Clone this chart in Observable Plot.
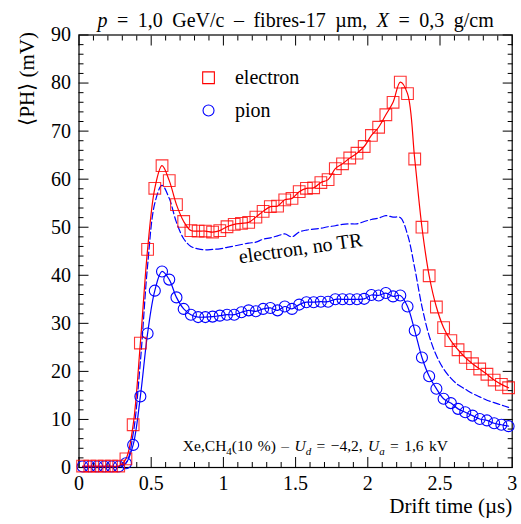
<!DOCTYPE html>
<html>
<head>
<meta charset="utf-8">
<script src="https://cdn.jsdelivr.net/npm/d3@7"></script>
<script src="https://cdn.jsdelivr.net/npm/@observablehq/plot@0.6"></script>
<style>
  html, body { margin: 0; padding: 0; background: #fff; }
  svg text, svg tspan { font-family: "Liberation Serif", serif !important; }
</style>
</head>
<body>
<div id="chart"></div>
<script>
// Drift time (µs)
const time = [0.025,0.075,0.125,0.175,0.225,0.275,0.325,0.375,0.425,0.475,
  0.525,0.575,0.625,0.675,0.725,0.775,0.825,0.875,0.925,0.975,
  1.025,1.075,1.125,1.175,1.225,1.275,1.325,1.375,1.425,1.475,
  1.525,1.575,1.625,1.675,1.725,1.775,1.825,1.875,1.925,1.975,
  2.025,2.075,2.125,2.175,2.225,2.275,2.325,2.375,2.425,2.475,
  2.525,2.575,2.625,2.675,2.725,2.775,2.825,2.875,2.925,2.975];
// <PH> (mV)
const electron = [0.3,0.3,0.3,0.3,0.3,0.3,1.8,8.9,25.9,45.4,
  58.1,62.8,59.7,54.7,51.2,49.3,49.2,49.2,49.0,49.3,
  50.1,50.6,50.8,51.0,52.1,53.3,54.3,54.4,55.7,56.0,
  57.4,58.1,58.2,59.3,59.9,62.2,63.2,64.4,65.4,66.8,
  69.1,70.8,73.4,76.0,80.2,77.8,64.2,50.0,39.9,33.4,
  29.1,26.4,24.5,22.9,21.6,20.5,19.4,18.2,17.3,16.6];
const pion = [0.2,0.2,0.2,0.2,0.2,0.2,0.9,4.7,14.8,27.9,
  36.8,40.8,39.1,35.4,33.0,31.8,31.3,31.3,31.4,31.6,
  31.8,31.8,32.3,32.7,32.5,33.0,33.2,32.7,33.5,33.0,
  33.9,34.4,34.4,34.5,34.5,35.0,35.0,35.0,35.0,35.1,
  35.9,35.8,36.3,35.6,35.8,33.5,28.5,22.9,19.0,16.4,
  14.3,13.4,12.2,11.5,10.8,10.1,9.8,9.2,8.9,8.6];
const electronNoTR = [0.2,0.2,0.2,0.2,0.2,0.2,0.9,7.0,22.0,42.0,
  55.0,58.7,56.0,51.0,47.6,46.0,45.5,45.3,45.4,45.5,
  45.8,46.1,46.4,46.7,46.9,47.5,47.8,48.2,48.6,48.0,
  49.0,49.4,49.6,49.8,50.1,50.3,50.6,50.7,50.7,51.2,
  51.6,51.9,52.4,52.1,52.0,48.5,41.5,33.5,27.4,23.3,
  20.5,18.6,17.2,16.3,15.4,14.7,14.0,13.5,13.0,12.5];

const xMajor = [0, 0.5, 1, 1.5, 2, 2.5, 3];
const xMinor = [0.1,0.2,0.3,0.4,0.6,0.7,0.8,0.9,1.1,1.2,1.3,1.4,1.6,1.7,1.8,1.9,2.1,2.2,2.3,2.4,2.6,2.7,2.8,2.9];
const yMajor = [0,10,20,30,40,50,60,70,80,90];
const yMinor = [2,4,6,8,12,14,16,18,22,24,26,28,32,34,36,38,42,44,46,48,52,54,56,58,62,64,66,68,72,74,76,78,82,84,86,88];

const titleText = "p = 1,0 GeV/c – fibres-17 µm, X = 0,3 g/cm";
const yLabel = "⟨PH⟩ (mV)";
const xLabel = "Drift time (µs)";
const legendLabels = ["electron", "pion"];
const legendPos = {x: 0.897, y: [81.1, 74.3], tx: 1.08};
const noTRLabel = "electron, no TR";
const noTRPos = {x: 1.534, y: 45.6};
const noteText = "Xe,CH4(10 %) – Ud = −4,2, Ua = 1,6 kV";
const notePos = {x: 1.637, y: 4.4};

const rows = (ys) => time.map((t, i) => ({t, v: ys[i]}));
const eRows = rows(electron), pRows = rows(pion), nRows = rows(electronNoTR);

const RED = "#ff0000", BLUE = "#0000ff";
const FS = 20;
const FF = "Liberation Serif";

const plot = Plot.plot({
  width: 521,
  height: 524,
  marginLeft: 78.5,
  marginRight: 9.3,
  marginTop: 34.5,
  marginBottom: 57,
  style: {fontFamily: FF, fontSize: FS + "px", background: "#fff"},
  x: {domain: [0, 3], label: null},
  y: {domain: [0, 90], label: null},
  marks: [
    // axes: inward ticks on all sides
    Plot.axisX({anchor: "bottom", ticks: xMajor, tickSize: 0, tickPadding: 8, tickFormat: d => String(d), fontSize: FS, fontFamily: FF, label: null}),
    Plot.axisX({anchor: "bottom", ticks: xMajor, tickSize: -10, text: null, label: null}),
    Plot.axisX({anchor: "bottom", ticks: xMinor, tickSize: -5, text: null, label: null}),
    Plot.axisX({anchor: "top", ticks: xMajor, tickSize: -10, text: null, label: null}),
    Plot.axisX({anchor: "top", ticks: xMinor, tickSize: -5, text: null, label: null}),
    Plot.axisY({anchor: "left", ticks: yMajor, tickSize: 0, tickPadding: 8, tickFormat: d => String(d), fontSize: FS, fontFamily: FF, label: null}),
    Plot.axisY({anchor: "left", ticks: yMajor, tickSize: -10, text: null, label: null}),
    Plot.axisY({anchor: "left", ticks: yMinor, tickSize: -5, text: null, label: null}),
    Plot.axisY({anchor: "right", ticks: yMajor, tickSize: -10, text: null, label: null}),
    Plot.axisY({anchor: "right", ticks: yMinor, tickSize: -5, text: null, label: null}),
    Plot.frame({stroke: "#000", strokeWidth: 1.2}),
    // series
    Plot.line(nRows, {x: "t", y: "v", stroke: BLUE, strokeWidth: 1.2, strokeDasharray: "7,3", curve: "catmull-rom"}),
    Plot.line(pRows, {x: "t", y: "v", stroke: BLUE, strokeWidth: 1.2, curve: "catmull-rom"}),
    Plot.line(eRows, {x: "t", y: "v", stroke: RED, strokeWidth: 1.2, curve: "catmull-rom"}),
    Plot.dot(pRows, {x: "t", y: "v", r: 5.5, stroke: BLUE, strokeWidth: 1.1, fill: "none", symbol: "circle"}),
    Plot.dot(eRows, {x: "t", y: "v", r: 6.6, stroke: RED, strokeWidth: 1.1, strokeOpacity: 0.8, fill: "none", symbol: "square"}),
    // legend
    Plot.dot([0], {x: () => legendPos.x, y: () => legendPos.y[0], r: 6.6, stroke: RED, strokeWidth: 1.1, fill: "none", symbol: "square"}),
    Plot.dot([0], {x: () => legendPos.x, y: () => legendPos.y[1], r: 5.5, stroke: BLUE, strokeWidth: 1.1, fill: "none", symbol: "circle"}),
    Plot.text(legendLabels, {x: () => legendPos.tx, y: (d, i) => legendPos.y[i], text: d => d, textAnchor: "start", fontSize: FS, fontFamily: FF, fill: "#000"}),
    // annotations
    Plot.text([noTRLabel], {x: () => noTRPos.x, y: () => noTRPos.y, text: d => d, rotate: -8, fontSize: FS, fontFamily: FF, fill: "#000"}),
    Plot.text([noteText], {x: () => notePos.x, y: () => notePos.y, text: d => d, fontSize: 15.5, fontFamily: FF, fill: "#000"}),
    // titles
    Plot.text([titleText], {frameAnchor: "top", dy: -22, text: d => d, fontSize: FS, fontFamily: FF, fill: "#000"}),
    Plot.text([yLabel], {frameAnchor: "top-left", dx: -60, dy: -3, rotate: -90, textAnchor: "end", text: d => d, fontSize: 21, fontFamily: FF, fill: "#000"}),
    Plot.text([xLabel], {frameAnchor: "bottom-right", dy: 45, textAnchor: "end", text: d => d, fontSize: 21, fontFamily: FF, fill: "#000"})
  ]
});

// rich text: italics and subscripts
function richify(root, plain, parts, wordSpacing) {
  root.querySelectorAll("text").forEach(t => {
    if (t.textContent !== plain) return;
    while (t.firstChild) t.removeChild(t.firstChild);
    if (wordSpacing) t.setAttribute("word-spacing", wordSpacing);
    let shift = 0;
    parts.forEach(([s, kind]) => {
      const ts = document.createElementNS("http://www.w3.org/2000/svg", "tspan");
      ts.textContent = s;
      const isSub = kind === "sub" || kind === "isub";
      if (kind === "i" || kind === "isub") ts.setAttribute("font-style", "italic");
      const target = isSub ? 4 : 0;
      if (target !== shift) { ts.setAttribute("dy", target - shift); shift = target; }
      if (isSub) ts.setAttribute("font-size", "11");
      t.appendChild(ts);
    });
  });
}
richify(plot, titleText, [["p", "i"], [" = 1,0 GeV/c – fibres-17 µm, "], ["X", "i"], [" = 0,3 g/cm"]], 4.5);
richify(plot, noteText, [["Xe,CH"], ["4", "sub"], ["(10 %) – "], ["U", "i"], ["d", "isub"], [" = −4,2, "], ["U", "i"], ["a", "isub"], [" = 1,6 kV"]], 1.5);

document.getElementById("chart").appendChild(plot);
</script>
</body>
</html>
